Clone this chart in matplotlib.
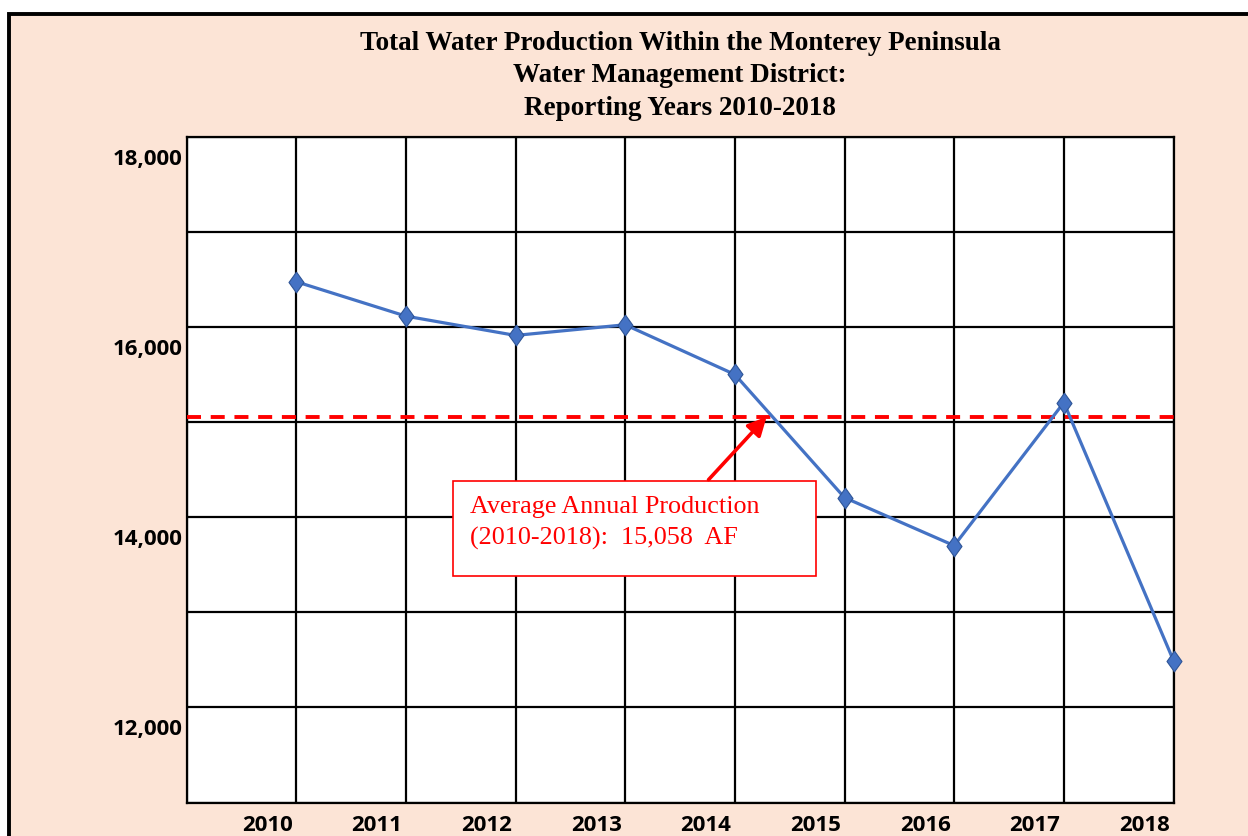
import matplotlib
matplotlib.use("Agg")
import matplotlib.pyplot as plt
import matplotlib.transforms as mtransforms
from matplotlib.patches import Rectangle

# data (acre-feet)
years = [2010, 2011, 2012, 2013, 2014, 2015, 2016, 2017, 2018]
production = [16478, 16116, 15913, 16025, 15502, 14207, 13702, 15207, 12492]
average_af = 15058

y_ticks = [11000, 12000, 13000, 14000, 15000, 16000, 17000, 18000]
y_tick_labels = ['', '12,000', '', '14,000', '', '16,000', '', '18,000']
x_ticks = [2009] + years
x_tick_labels = [''] + [str(y) for y in years]

title_lines = ["Total Water Production Within the Monterey Peninsula",
               "Water Management District:",
               "Reporting Years 2010-2018"]
note_lines = ["Average Annual Production", "(2010-2018):  15,058  AF"]

PEACH = '#FCE4D6'
BLUE = '#4472C4'
W, H = 1248, 836

# Excel-style diamond, a bit taller than wide
DIAMOND = [(0, 1), (0.72, 0), (0, -1), (-0.72, 0), (0, 1)]

fig = plt.figure(figsize=(W / 100, H / 100), dpi=100)
fig.patch.set_facecolor('white')

# chart area with thick black frame (right/bottom run off the image)
frame = Rectangle((8.7 / W, -0.2), 1.5, 1.2 - 14 / H, transform=fig.transFigure,
                  facecolor=PEACH, edgecolor='black', linewidth=2.8, zorder=-5)
fig.add_artist(frame)

ax = fig.add_axes([186.5 / W, 1 - 802.5 / H, 987 / W, 665.5 / H])
ax.set_facecolor('white')
ax.set_xlim(2009, 2018)
ax.set_ylim(11000, 18000)
ax.set_xticks(x_ticks)
ax.set_xticklabels(x_tick_labels)
ax.set_yticks(y_ticks)
ax.set_yticklabels(y_tick_labels)
ax.grid(True, color='black', linewidth=1.6)
ax.set_axisbelow(True)
for s in ax.spines.values():
    s.set_color('black')
    s.set_linewidth(1.6)
ax.tick_params(length=0, labelsize=16, pad=3)
ax.tick_params(axis='x', pad=9)
for lbl in ax.get_xticklabels() + ax.get_yticklabels():
    lbl.set_fontfamily('Open Sans')
    lbl.set_fontweight('bold')

# Excel put the labels off the gridlines, shift them the same way
for lbl in ax.get_yticklabels():
    lbl.set_transform(lbl.get_transform() +
                      mtransforms.ScaledTranslation(0, -0.20, fig.dpi_scale_trans))
for lbl in ax.get_xticklabels():
    lbl.set_transform(lbl.get_transform() +
                      mtransforms.ScaledTranslation(-0.29, 0, fig.dpi_scale_trans))

# average line
ax.axhline(average_af, color='#FF0000', linewidth=2.8, dashes=(3.6, 2.5), zorder=3)

# production series
ax.plot(years, production, color=BLUE, linewidth=2.3, marker=DIAMOND, markersize=15,
        markerfacecolor=BLUE, markeredgecolor='#2F5597', markeredgewidth=0.8,
        zorder=4, clip_on=False)

# annotation box + arrow
box = Rectangle((2011.43, 13384), 3.31, 1000, facecolor='white',
                edgecolor='#FF0000', linewidth=1.2, zorder=5)
ax.add_patch(box)
ax.annotate('', xy=(2014.29, average_af), xytext=(2013.76, 14395),
            arrowprops=dict(arrowstyle='-|>', color='#FF0000', lw=2.6,
                            mutation_scale=28, shrinkA=0, shrinkB=0), zorder=5)
fig.text(470 / W, 1 - 513 / H, note_lines[0], color='#FF0000', fontsize=18.8,
         fontfamily='Liberation Serif', va='baseline', ha='left')
fig.text(470 / W, 1 - 545 / H, note_lines[1], color='#FF0000', fontsize=18.8,
         fontfamily='Liberation Serif', va='baseline', ha='left')

# title
for line, base in zip(title_lines, [50, 82, 115]):
    fig.text(680 / W, 1 - base / H, line, ha='center', va='baseline',
             fontsize=19.5, fontweight='bold', fontfamily='Liberation Serif')

fig.savefig('out.png', dpi=100, facecolor=fig.get_facecolor())
